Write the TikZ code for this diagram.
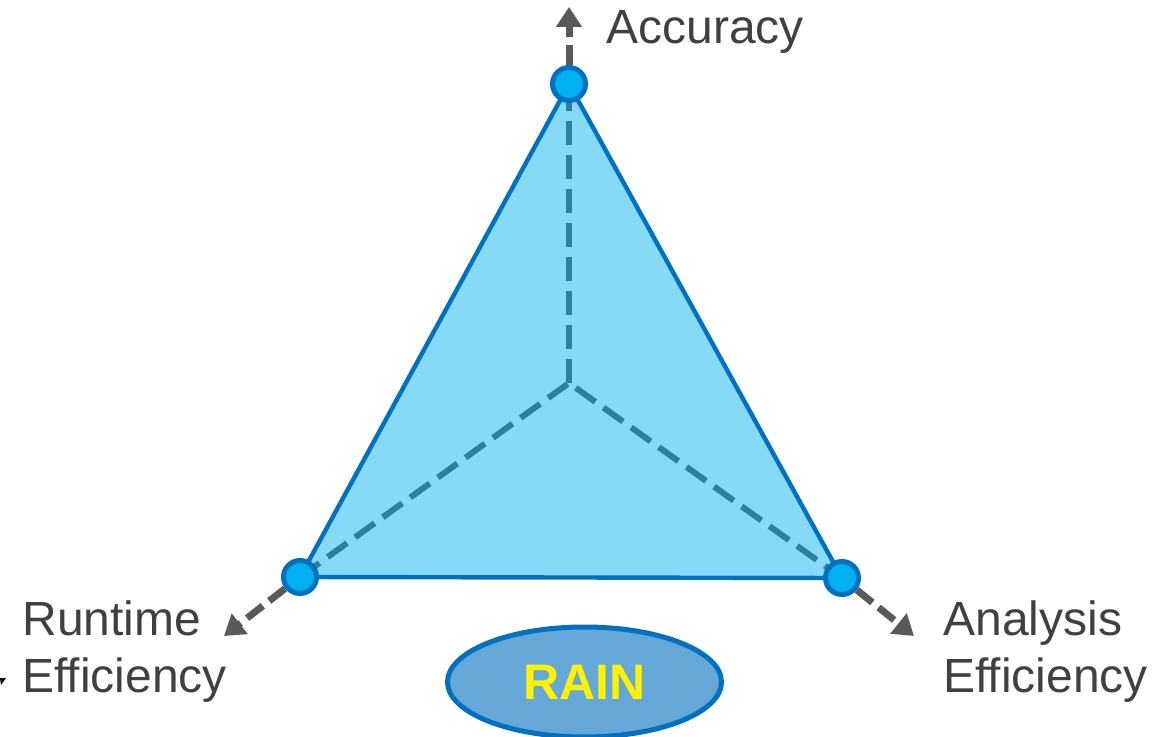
\documentclass[tikz,border=0pt]{standalone}
\usepackage{fontspec}
\setmainfont{Liberation Sans}
\usepackage{xcolor}
\usepackage{tikz}
\usetikzlibrary{arrows.meta, calc, shapes.geometric, backgrounds, positioning}

\definecolor{triblue}{HTML}{87DAF6}
\definecolor{edgeblue}{HTML}{0070C0}
\definecolor{dotblue}{HTML}{00B0F0}
\definecolor{spoketeal}{HTML}{2E7F9A}
\definecolor{axisgray}{HTML}{595959}
\definecolor{textgray}{HTML}{404040}
\definecolor{rainblue}{HTML}{65A8D8}

\tikzset{
    vertex/.style={circle, fill=dotblue, draw=edgeblue, line width=2.5pt, minimum size=16.5pt, inner sep=0pt},
    spoke/.style={spoketeal, line width=3pt, dash pattern=on 12pt off 5pt},
    axis/.style={axisgray, line width=3.5pt, dash pattern=on 10pt off 4pt, -{Triangle[length=10pt, width=12.5pt]}},
    lbl/.style={textgray, font=\fontsize{24}{28.5}\selectfont, inner sep=0pt, align=left}
}

\begin{document}
\begin{tikzpicture}[x=0.5pt, y=-0.5pt]
    \useasboundingbox (0,0) rectangle (1173,737);

    % Corners and centre
    \coordinate (ctr) at (569,383);
    \node[vertex] (acc) at (569,84) {};
    \node[vertex] (run) at (300,577) {};
    \node[vertex] (ana) at (842,578) {};

    % Axis tips
    \coordinate (acctip) at (569,7);
    \coordinate (runtip) at (224,636);
    \coordinate (anatip) at (914,636);

    \begin{scope}[on background layer]
        % Triangle
        \fill[triblue, draw=edgeblue, line width=2.2pt, line join=round] (acc.center) -- (run.center) -- (ana.center) -- cycle;
        % Spokes
        \draw[spoke] (run.center) -- (ctr) -- (ana.center);
        \draw[spoke] (ctr) -- (acc.center);
        % Axes
        \foreach \v in {acc, run, ana} {
            \draw[axis] (\v) -- (\v tip);
        }
    \end{scope}

    % Labels
    \node[lbl, anchor=base west] (acclbl) at (606,44) {Accuracy};
    \node[lbl, anchor=base west] (runlbl) at (22,692) {Runtime\\Efficiency};
    \node[lbl, anchor=base west] (analbl) at (943,692) {Analysis\\Efficiency};

    % Method
    \node[ellipse, fill=rainblue, draw=edgeblue, line width=2.5pt, minimum width=137pt, minimum height=55pt, text=yellow, font=\fontsize{25}{30}\selectfont\bfseries] (rain) at (584.5,682) {RAIN};

    % stray tip at the left edge
    \fill[black] (0,678) -- (6,678) -- (1,685) -- cycle;
\end{tikzpicture}
\end{document}
